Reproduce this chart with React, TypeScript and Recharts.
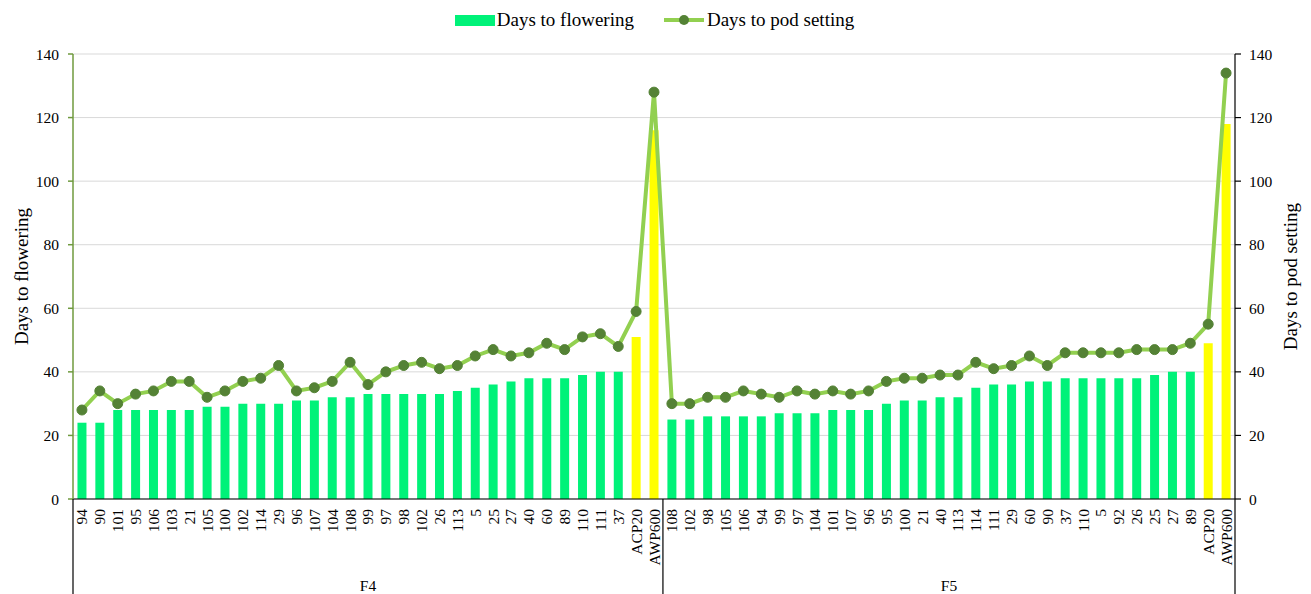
import React from 'react';
import { ComposedChart, Bar, Line, XAxis, YAxis, CartesianGrid, Cell, Legend, Label } from 'recharts';

const groupNames = ['F4', 'F5'];
const f4Cats = ['94','90','101','95','106','103','21','105','100','102','114','29','96','107','104','108','99','97','98','102','26','113','5','25','27','40','60','89','110','111','37','ACP20','AWP600'];
const f4Flowering = [24,24,28,28,28,28,28,29,29,30,30,30,31,31,32,32,33,33,33,33,33,34,35,36,37,38,38,38,39,40,40,51,116];
const f4PodSetting = [28,34,30,33,34,37,37,32,34,37,38,42,34,35,37,43,36,40,42,43,41,42,45,47,45,46,49,47,51,52,48,59,128];
const f5Cats = ['108','102','98','105','106','94','99','97','104','101','107','96','95','100','21','40','113','114','111','29','60','90','37','110','5','92','26','25','27','89','ACP20','AWP600'];
const f5Flowering = [25,25,26,26,26,26,27,27,27,28,28,28,30,31,31,32,32,35,36,36,37,37,38,38,38,38,38,39,40,40,49,118];
const f5PodSetting = [30,30,32,32,34,33,32,34,33,34,33,34,37,38,38,39,39,43,41,42,45,42,46,46,46,46,47,47,47,49,55,134];
const checkCats = ['ACP20', 'AWP600'];
const yTicks = [0, 20, 40, 60, 80, 100, 120, 140];

const groupCats = [f4Cats, f5Cats];
const groupFlowering = [f4Flowering, f5Flowering];
const groupPod = [f4PodSetting, f5PodSetting];

const rows = groupCats.flatMap((cats, g) =>
  cats.map((cat, i) => ({
    id: `${groupNames[g]}-${i}-${cat}`,
    cat,
    group: groupNames[g],
    groupIndex: g,
    indexInGroup: i,
    groupSize: cats.length,
    flowering: groupFlowering[g][i],
    pod: groupPod[g][i],
  }))
);

const FONT = '"Liberation Serif", "Times New Roman", serif';
const BAR_GREEN = '#00F279';
const CHECK_YELLOW = '#FFFF00';
const LINE_GREEN = '#92D050';
const DOT_GREEN = '#548235';
const LEFT_AXIS = '#6F9A3E';

const XTick = (props: any) => {
  const { x, y, payload } = props;
  const idx = payload.index;
  const row = rows[idx];
  if (!row) return null;
  const half = payload.offset || (props.width ? props.width / rows.length / 2 : 9);
  const bottom = 594;
  const els: any[] = [];
  els.push(
    <text
      key="t"
      x={x}
      y={y + 10}
      transform={`rotate(-90 ${x} ${y + 10})`}
      textAnchor="end"
      dominantBaseline="central"
      fontFamily={FONT}
      fontSize={15.5}
      fill="#000"
    >
      {row.cat}
    </text>
  );
  if (row.indexInGroup === 0) {
    els.push(<line key="s" x1={x - half} x2={x - half} y1={y} y2={bottom} stroke="#000" strokeWidth={1.2} />);
    els.push(
      <text
        key="g"
        x={x - half + row.groupSize * half}
        y={585}
        textAnchor="middle"
        dominantBaseline="central"
        fontFamily={FONT}
        fontSize={15.5}
        fill="#000"
      >
        {row.group}
      </text>
    );
  }
  if (idx === rows.length - 1) {
    els.push(<line key="e" x1={x + half} x2={x + half} y1={y} y2={bottom} stroke="#000" strokeWidth={1.2} />);
  }
  return <g>{els}</g>;
};

const LeftTitle = (props: any) => {
  const vb = props.viewBox || {};
  const cy = (vb.y || 0) + (vb.height || 0) / 2;
  return (
    <text x={21} y={cy} transform={`rotate(-90 21 ${cy})`} textAnchor="middle" dominantBaseline="central" fontFamily={FONT} fontSize={19} fill="#000">
      Days to flowering
    </text>
  );
};

const RightTitle = (props: any) => {
  const vb = props.viewBox || {};
  const cy = (vb.y || 0) + (vb.height || 0) / 2;
  return (
    <text x={1290} y={cy} transform={`rotate(-90 1290 ${cy})`} textAnchor="middle" dominantBaseline="central" fontFamily={FONT} fontSize={19} fill="#000">
      Days to pod setting
    </text>
  );
};

const LegendContent = () => (
  <div style={{ height: 54, width: 1311, position: 'relative', fontFamily: FONT, fontSize: 19, color: '#000' }}>
    <div style={{ position: 'absolute', top: 8, left: 0, width: 1311, height: 24, display: 'flex', justifyContent: 'center', alignItems: 'center' }}>
      <div style={{ display: 'flex', alignItems: 'center', marginLeft: -2 }}>
        <div style={{ width: 40, height: 11, background: BAR_GREEN, marginRight: 2 }} />
        <span>Days to flowering</span>
      </div>
      <div style={{ display: 'flex', alignItems: 'center', marginLeft: 30 }}>
        <svg width={40} height={12} style={{ marginRight: 3 }}>
          <line x1={0} x2={40} y1={6} y2={6} stroke={LINE_GREEN} strokeWidth={4} />
          <circle cx={20} cy={6} r={5} fill={DOT_GREEN} />
        </svg>
        <span>Days to pod setting</span>
      </div>
    </div>
  </div>
);

export default function App() {
  return (
    <div style={{ position: 'absolute', left: 0, top: 0, width: 1311, height: 594, background: '#fff' }}>
      <ComposedChart
        width={1311}
        height={594}
        data={rows}
        margin={{ top: 0, right: 0, bottom: 0, left: 0 }}
        barCategoryGap="25%"
      >
        <Legend verticalAlign="top" align="center" content={<LegendContent />} wrapperStyle={{ left: 0, top: 0, width: 1311, height: 54 }} />
        <CartesianGrid vertical={false} stroke="#D9D9D9" strokeWidth={1} yAxisId="left" />
        <XAxis
          dataKey="id"
          interval={0}
          height={95}
          tickSize={0}
          tickMargin={0}
          tickLine={false}
          axisLine={{ stroke: '#000', strokeWidth: 1.2 }}
          tick={<XTick />}
        />
        <YAxis
          yAxisId="left"
          orientation="left"
          width={73}
          domain={[0, 140]}
          ticks={yTicks}
          interval={0}
          tickSize={5}
          tickMargin={9}
          axisLine={{ stroke: LEFT_AXIS, strokeWidth: 1.5 }}
          tickLine={{ stroke: LEFT_AXIS, strokeWidth: 1.5 }}
          tick={{ fontFamily: FONT, fontSize: 15.5, fill: '#000' }}
        >
          <Label content={<LeftTitle />} />
        </YAxis>
        <YAxis
          yAxisId="right"
          orientation="right"
          width={76}
          domain={[0, 140]}
          ticks={yTicks}
          interval={0}
          tickSize={6}
          tickMargin={8}
          axisLine={{ stroke: '#000', strokeWidth: 1.2 }}
          tickLine={{ stroke: '#000', strokeWidth: 1.2 }}
          tick={{ fontFamily: FONT, fontSize: 15.5, fill: '#000' }}
        >
          <Label content={<RightTitle />} />
        </YAxis>
        <Bar yAxisId="left" dataKey="flowering" name="Days to flowering" fill={BAR_GREEN} isAnimationActive={false}>
          {rows.map((r) => (
            <Cell key={r.id} fill={checkCats.includes(r.cat) ? CHECK_YELLOW : BAR_GREEN} />
          ))}
        </Bar>
        <Line
          yAxisId="right"
          dataKey="pod"
          name="Days to pod setting"
          stroke={LINE_GREEN}
          strokeWidth={4}
          dot={{ r: 5, fill: DOT_GREEN, stroke: DOT_GREEN, strokeWidth: 1 }}
          activeDot={false}
          isAnimationActive={false}
        />
      </ComposedChart>
    </div>
  );
}
